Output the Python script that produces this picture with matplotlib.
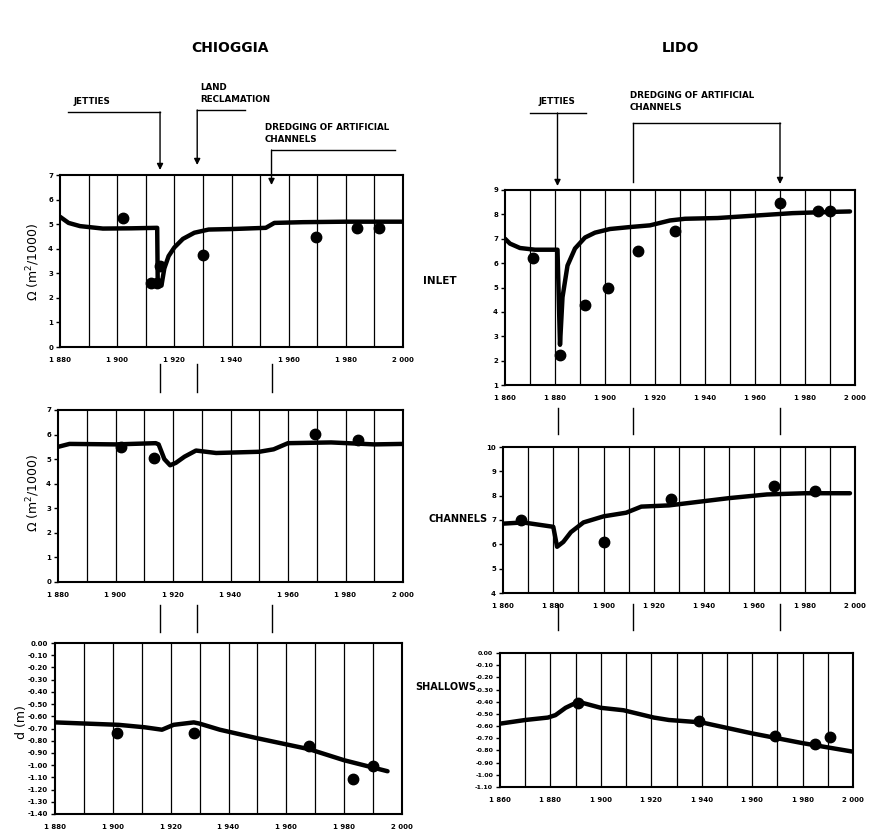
import matplotlib
matplotlib.use("Agg")
import matplotlib.pyplot as plt
from matplotlib.lines import Line2D

# ---------------- DATA ----------------
chi_inlet_line_x = [1880, 1883, 1887, 1895, 1905, 1914, 1914.2, 1915.5, 1916.5, 1918, 1920, 1923, 1927, 1932, 1940, 1952, 1955, 1965, 1980, 2000]
chi_inlet_line_y = [5.3, 5.05, 4.92, 4.82, 4.83, 4.85, 2.5, 2.5, 3.2, 3.7, 4.05, 4.4, 4.65, 4.78, 4.8, 4.85, 5.05, 5.08, 5.1, 5.1]
chi_inlet_pts_x = [1902, 1912, 1914, 1915, 1930, 1969.5, 1984, 1991.5]
chi_inlet_pts_y = [5.25, 2.6, 2.6, 3.3, 3.75, 4.47, 4.84, 4.84]

chi_chan_line_x = [1880, 1884, 1900, 1914, 1915, 1917, 1919, 1921, 1924, 1928, 1935, 1950, 1955, 1960, 1975, 1990, 2000]
chi_chan_line_y = [5.5, 5.62, 5.6, 5.65, 5.6, 5.0, 4.75, 4.85, 5.1, 5.35, 5.25, 5.3, 5.4, 5.65, 5.68, 5.6, 5.62]
chi_chan_pts_x = [1902, 1913.5, 1969.4, 1984.3]
chi_chan_pts_y = [5.5, 5.05, 6.02, 5.78]

chi_shal_line_x = [1880, 1891, 1902, 1911, 1917, 1921, 1928, 1930, 1937, 1950, 1968, 1980, 1995]
chi_shal_line_y = [-0.65, -0.66, -0.67, -0.69, -0.71, -0.67, -0.65, -0.66, -0.71, -0.78, -0.87, -0.96, -1.05]
chi_shal_pts_x = [1901.5, 1928, 1968, 1983, 1990]
chi_shal_pts_y = [-0.74, -0.74, -0.84, -1.11, -1.01]

lido_inlet_line_x = [1860, 1862, 1866, 1872, 1881, 1882, 1883, 1885, 1888, 1892, 1896, 1902, 1910, 1918, 1922, 1926, 1932, 1945, 1960, 1975, 1990, 1998]
lido_inlet_line_y = [7.0, 6.8, 6.62, 6.55, 6.55, 2.65, 4.6, 5.9, 6.6, 7.05, 7.25, 7.4, 7.48, 7.55, 7.65, 7.75, 7.82, 7.85, 7.95, 8.05, 8.1, 8.12]
lido_inlet_pts_x = [1871, 1882, 1892, 1901, 1913, 1928, 1970, 1985, 1990]
lido_inlet_pts_y = [6.23, 2.24, 4.28, 5.0, 6.5, 7.33, 8.47, 8.15, 8.15]

lido_chan_line_x = [1860, 1868, 1880, 1881.5, 1884, 1887, 1892, 1900, 1909, 1915, 1926, 1934, 1950, 1965, 1980, 1998]
lido_chan_line_y = [6.85, 6.9, 6.72, 5.9, 6.1, 6.5, 6.9, 7.15, 7.3, 7.55, 7.6, 7.7, 7.9, 8.05, 8.1, 8.1]
lido_chan_pts_x = [1867, 1900, 1927, 1967.6, 1984]
lido_chan_pts_y = [7.0, 6.1, 7.85, 8.4, 8.2]

lido_shal_line_x = [1860, 1870, 1879, 1882, 1886, 1891, 1900, 1909, 1921, 1927, 1940, 1960, 1980, 2000]
lido_shal_line_y = [-0.58, -0.55, -0.53, -0.51, -0.45, -0.40, -0.45, -0.47, -0.53, -0.55, -0.57, -0.66, -0.74, -0.81]
lido_shal_pts_x = [1891, 1939, 1969, 1985, 1991]
lido_shal_pts_y = [-0.41, -0.56, -0.68, -0.75, -0.69]

chi_xticks = [1880, 1900, 1920, 1940, 1960, 1980, 2000]
lido_xticks = [1860, 1880, 1900, 1920, 1940, 1960, 1980, 2000]
chi_events = [1915, 1928, 1954]      # jetties, land reclamation, dredging
lido_events = [1881, 1911, 1970]     # jetties, dredging start, dredging end

# ---------------- FIGURE ----------------
W, H = 874, 831
fig = plt.figure(figsize=(W / 100, H / 100), dpi=100)
fig.patch.set_facecolor("white")
plt.rcParams['font.family'] = ['DejaVu Sans']

def fx(px):
    return px / W

def fy(py):
    return 1 - py / H

def make_ax(x0, y0, x1, y1):
    return fig.add_axes([fx(x0), fy(y1), fx(x1) - fx(x0), (y1 - y0) / H])

def tick_fmt(v):
    s = "%d" % v
    return s[0] + " " + s[1:]

def style(ax, xlim, xticks, ylim, yticks, ylabels, yfs=5):
    ax.set_xlim(*xlim)
    ax.set_ylim(*ylim)
    for yr in range(xlim[0] + 10, xlim[1], 10):
        ax.axvline(yr, color="black", lw=0.9, zorder=1)
    ax.set_xticks(xticks)
    ax.set_xticklabels([tick_fmt(t) for t in xticks], fontsize=5, fontweight="bold")
    ax.set_yticks(yticks)
    ax.set_yticklabels(ylabels, fontsize=yfs, fontweight="bold")
    ax.tick_params(axis="x", length=0, pad=7)
    ax.tick_params(axis="y", length=3, width=1, pad=2)
    for sp in ax.spines.values():
        sp.set_linewidth(1.5)

def draw(ax, lx, ly, px, py):
    ax.plot(lx, ly, color="black", lw=3.2, solid_capstyle="round", zorder=3)
    ax.plot(px, py, "o", color="black", ms=7.5, zorder=4)

# Chioggia inlet
a1 = make_ax(60, 175, 403, 347)
style(a1, (1880, 2000), chi_xticks, (0, 7), range(0, 8), [str(i) for i in range(8)])
draw(a1, chi_inlet_line_x, chi_inlet_line_y, chi_inlet_pts_x, chi_inlet_pts_y)

# Chioggia channels
a2 = make_ax(58, 410, 403, 582)
style(a2, (1880, 2000), chi_xticks, (0, 7), range(0, 8), [str(i) for i in range(8)])
draw(a2, chi_chan_line_x, chi_chan_line_y, chi_chan_pts_x, chi_chan_pts_y)

# Chioggia shallows
a3 = make_ax(55, 643, 402, 814)
sy = [-i / 10 for i in range(15)]
style(a3, (1880, 2000), chi_xticks, (-1.4, 0.0), sy, ["%.2f" % v for v in sy])
draw(a3, chi_shal_line_x, chi_shal_line_y, chi_shal_pts_x, chi_shal_pts_y)

# Lido inlet
b1 = make_ax(505, 190, 855, 385)
style(b1, (1860, 2000), lido_xticks, (1, 9), range(1, 10), [str(i) for i in range(1, 10)])
draw(b1, lido_inlet_line_x, lido_inlet_line_y, lido_inlet_pts_x, lido_inlet_pts_y)

# Lido channels
b2 = make_ax(503, 447, 855, 593)
style(b2, (1860, 2000), lido_xticks, (4, 10), range(4, 11), [str(i) for i in range(4, 11)])
draw(b2, lido_chan_line_x, lido_chan_line_y, lido_chan_pts_x, lido_chan_pts_y)

# Lido shallows
b3 = make_ax(500, 653, 853, 787)
ly = [-i / 10 for i in range(12)]
style(b3, (1860, 2000), lido_xticks, (-1.1, 0.0), ly, ["%.2f" % v for v in ly], yfs=4.5)
draw(b3, lido_shal_line_x, lido_shal_line_y, lido_shal_pts_x, lido_shal_pts_y)

# y-axis labels
fig.text(fx(33), fy(262), r"$\Omega$ (m$^2$/1000)", rotation=90, ha="center", va="center", fontsize=9)
fig.text(fx(33), fy(493), r"$\Omega$ (m$^2$/1000)", rotation=90, ha="center", va="center", fontsize=9)
fig.text(fx(22), fy(722), "d (m)", rotation=90, ha="center", va="center", fontsize=9)

# titles
fig.text(fx(230), fy(48), "CHIOGGIA", ha="center", va="center", fontsize=10, fontweight="bold")
fig.text(fx(680), fy(48), "LIDO", ha="center", va="center", fontsize=10, fontweight="bold")

# side labels
fig.text(fx(440), fy(281), "INLET", ha="center", va="center", fontsize=7.5, fontweight="bold")
fig.text(fx(458), fy(519), "CHANNELS", ha="center", va="center", fontsize=7, fontweight="bold")
fig.text(fx(446), fy(687), "SHALLOWS", ha="center", va="center", fontsize=7, fontweight="bold")

# helpers for annotation graphics in pixel coords
def year_px(ax, yr):
    disp = ax.transData.transform((yr, ax.get_ylim()[0]))
    return fig.transFigure.inverted().transform(disp)[0] * W

def hline(x0, x1, y, lw=1.0):
    fig.add_artist(Line2D([fx(x0), fx(x1)], [fy(y), fy(y)], color="black", lw=lw))

def vline(x, y0, y1, lw=1.0):
    fig.add_artist(Line2D([fx(x), fx(x)], [fy(y0), fy(y1)], color="black", lw=lw))

def arrow(x, y0, y1):
    fig.add_artist(matplotlib.patches.FancyArrowPatch((fx(x), fy(y0)), (fx(x), fy(y1)),
                   transform=fig.transFigure, arrowstyle="-|>", mutation_scale=9,
                   color="black", lw=1.0, shrinkA=0, shrinkB=0))

annot_fs = 6.3
# Chioggia event annotations
cx = [year_px(a1, e) for e in chi_events]
fig.text(fx(92), fy(101), "JETTIES", ha="center", va="center", fontsize=annot_fs, fontweight="bold")
hline(68, cx[0], 112)
arrow(cx[0], 112, 170)
fig.text(fx(200), fy(87), "LAND", ha="left", va="center", fontsize=annot_fs, fontweight="bold")
fig.text(fx(200), fy(99), "RECLAMATION", ha="left", va="center", fontsize=annot_fs, fontweight="bold")
hline(cx[1], 245, 110)
arrow(cx[1], 110, 165)
fig.text(fx(265), fy(127), "DREDGING OF ARTIFICIAL", ha="left", va="center", fontsize=annot_fs, fontweight="bold")
fig.text(fx(265), fy(140), "CHANNELS", ha="left", va="center", fontsize=annot_fs, fontweight="bold")
hline(cx[2], 395, 150)
arrow(cx[2], 150, 185)

# Lido event annotations
lx = [year_px(b1, e) for e in lido_events]
fig.text(fx(557), fy(101), "JETTIES", ha="center", va="center", fontsize=annot_fs, fontweight="bold")
hline(530, 586, 113)
arrow(lx[0], 113, 186)
fig.text(fx(630), fy(95), "DREDGING OF ARTIFICIAL", ha="left", va="center", fontsize=annot_fs, fontweight="bold")
fig.text(fx(630), fy(108), "CHANNELS", ha="left", va="center", fontsize=annot_fs, fontweight="bold")
hline(lx[1], lx[2], 123)
vline(lx[1], 123, 182)
arrow(lx[2], 123, 184)

# small connecting marks between panels
for x in cx:
    vline(x, 364, 392)
    vline(x, 605, 632)
for x in lx:
    vline(x, 408, 434)
    vline(x, 604, 630)

fig.savefig("out.png", dpi=100, facecolor="white")
